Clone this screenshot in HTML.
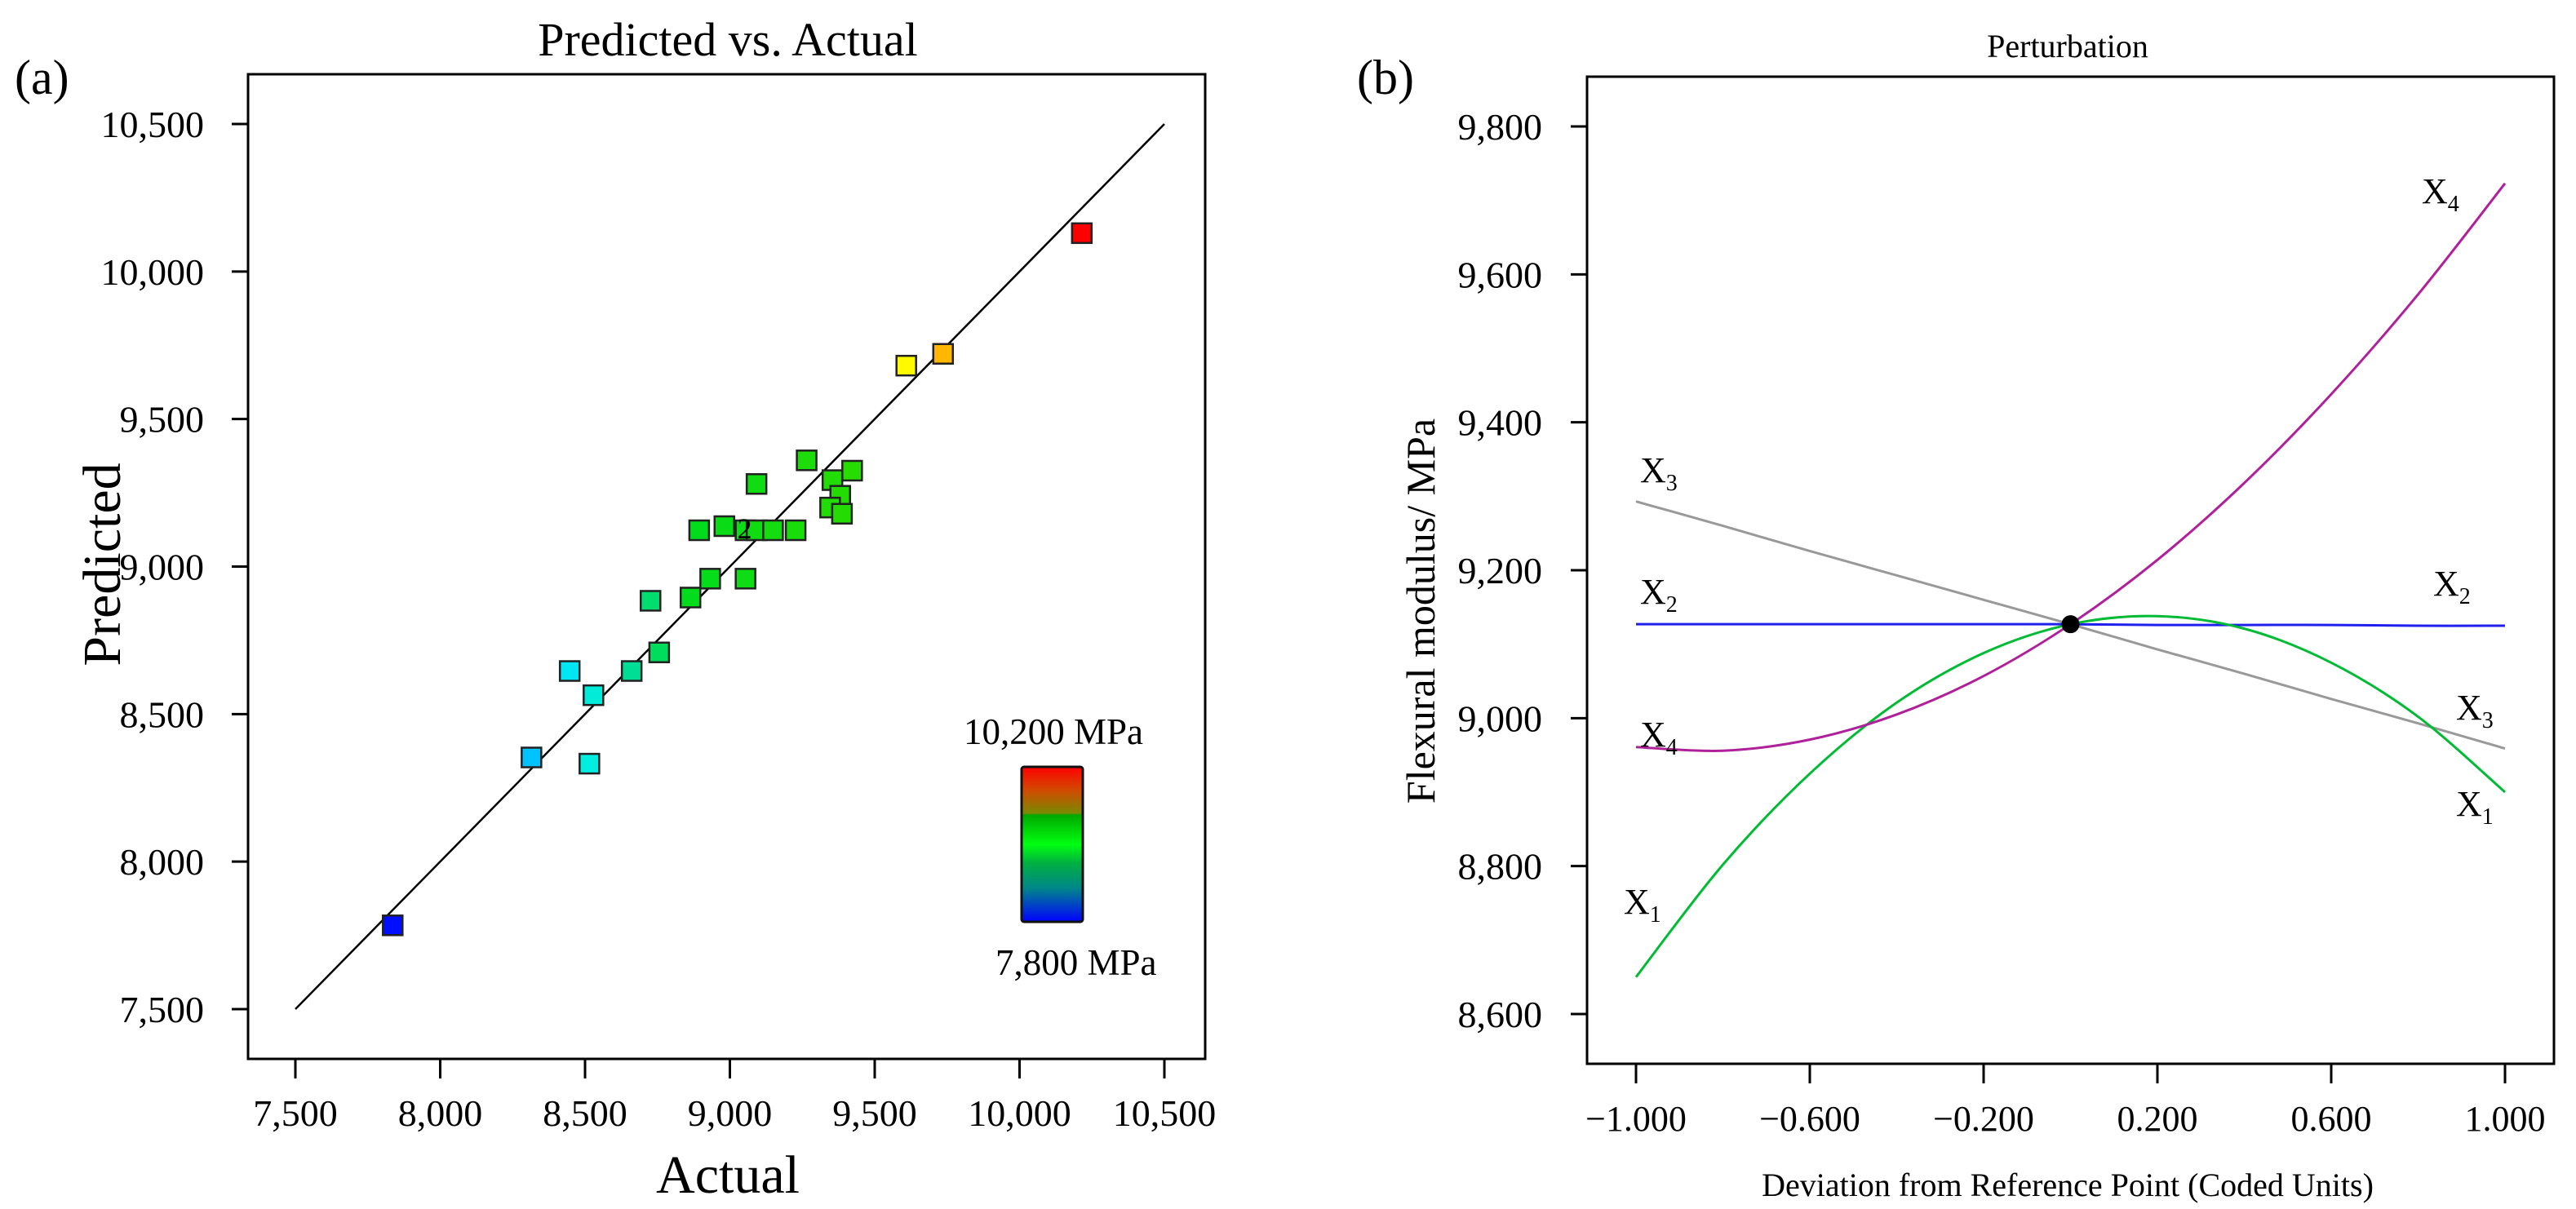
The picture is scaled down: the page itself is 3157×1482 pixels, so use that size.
<!DOCTYPE html>
<html><head><meta charset="utf-8"><style>
html,body{margin:0;padding:0;background:#fff;}
svg text, svg tspan{font-family:"Liberation Serif",serif;fill:#000;}
</style></head><body>
<svg id="fig" width="3157" height="1477" viewBox="0 0 3157 1477" xmlns="http://www.w3.org/2000/svg" font-family="Liberation Serif, serif">
<defs>
<linearGradient id="cbar" x1="0" y1="0" x2="0" y2="1">
<stop offset="0" stop-color="#ff0000"/><stop offset="0.15" stop-color="#d24a00"/><stop offset="0.3" stop-color="#7a8a00"/><stop offset="0.31" stop-color="#00a800"/><stop offset="0.5" stop-color="#00ff10"/><stop offset="0.62" stop-color="#00b040"/><stop offset="0.78" stop-color="#008888"/><stop offset="1" stop-color="#0000ff"/>
</linearGradient>
</defs>
<g id="left"></g>
<g id="right"></g>
</svg>
<script>
// ---- Panel (a) data ----
const actualVals = [7836,8315,8447,8529,8515,8661,8756,8726,8864,8932,9054,8894,8981,9054,9092,9149,9227,9092,9265,9354,9422,9381,9346,9387,9609,9736,10215];
const predictedVals = [7784,8353,8646,8564,8332,8646,8709,8884,8895,8959,8959,9123,9137,9123,9123,9123,9123,9280,9360,9293,9325,9240,9200,9179,9681,9721,10130];
const axisTicksA = [7500,8000,8500,9000,9500,10000,10500];
const tickLabelsA = ["7,500","8,000","8,500","9,000","9,500","10,000","10,500"];
// ---- Panel (b) data ----
const codedX = [-1,-0.8,-0.6,-0.4,-0.2,0,0.2,0.4,0.6,0.8,1];
const seriesX1 = [8650,8802,8925,9021,9088,9127,9138,9121,9075,9002,8900];
const seriesX2 = [9127,9127,9127,9127,9127,9127,9126,9126,9126,9125,9125];
const seriesX3 = [9293,9260,9226,9193,9160,9127,9093,9060,9026,8993,8959];
const seriesX4 = [8961,8956,8971,9005,9057,9127,9214,9318,9438,9573,9723];
const xTicksB = [-1,-0.6,-0.2,0.2,0.6,1];
const xTickLabelsB = ["\u22121.000","\u22120.600","\u22120.200","0.200","0.600","1.000"];
const yTicksB = [8600,8800,9000,9200,9400,9600,9800];
const yTickLabelsB = ["8,600","8,800","9,000","9,200","9,400","9,600","9,800"];

const NS="http://www.w3.org/2000/svg";
function mk(parent,tag,attrs,txt){const e=document.createElementNS(NS,tag);for(const k in attrs)e.setAttribute(k,attrs[k]);if(tag==='text'||tag==='tspan')e.setAttribute('font-family','Liberation Serif, serif');if(txt!==undefined)e.textContent=txt;parent.appendChild(e);return e;}

// ===== Panel A =====
const L=document.getElementById('left');
const ax=v=>362+(v-7500)*(1427-362)/3000;
const ay=v=>1237-(v-7500)*(1237-152)/3000;
let e;
e=mk(L,'rect',{x:304,y:91,width:1173,height:1207,fill:'none',stroke:'#000','stroke-width':3});


e=mk(L,'text',{x:892,y:68,'font-size':58,'text-anchor':'middle'},'Predicted vs. Actual');


e=mk(L,'text',{x:18,y:115,'font-size':60},'(a)');


axisTicksA.forEach((t,i)=>{
  e=mk(L,'line',{x1:ax(t),x2:ax(t),y1:1298,y2:1322,stroke:'#000','stroke-width':3});
  
  
  e=mk(L,'text',{x:ax(t),y:1380,'font-size':46,'text-anchor':'middle'},tickLabelsA[i]);
  
  
  e=mk(L,'line',{x1:284,x2:304,y1:ay(t),y2:ay(t),stroke:'#000','stroke-width':3});
  
  
  e=mk(L,'text',{x:250,y:ay(t)+16,'font-size':46,'text-anchor':'end'},tickLabelsA[i]);
  
  
});
e=mk(L,'text',{x:892,y:1462,'font-size':66,'text-anchor':'middle'},'Actual');


e=mk(L,'text',{x:0,y:0,'font-size':66,'text-anchor':'middle',transform:'translate(147,692) rotate(-90)'},'Predicted');


e=mk(L,'line',{x1:ax(7500),y1:ay(7500),x2:ax(10500),y2:ay(10500),stroke:'#000','stroke-width':2.5});


function colorFor(v){
  const st=[[7800,[0,0,255]],[8300,[0,190,255]],[8480,[0,240,240]],[8680,[0,220,140]],[8850,[0,220,30]],[9450,[40,220,0]],[9600,[255,255,0]],[9750,[255,176,0]],[10200,[255,0,0]]];
  if(v<=st[0][0])return 'rgb(0,0,255)';
  for(let i=1;i<st.length;i++){if(v<=st[i][0]){const f=(v-st[i-1][0])/(st[i][0]-st[i-1][0]);const c=st[i-1][1].map((a,j)=>Math.round(a+(st[i][1][j]-a)*f));return 'rgb('+c+')';}}
  return 'rgb(255,0,0)';
}
actualVals.forEach((a,i)=>{
  const p=predictedVals[i];
  e=mk(L,'rect',{x:ax(a)-12,y:ay(p)-12,width:24,height:24,fill:colorFor(a),stroke:'#222','stroke-width':2.5});
  
  
});
e=mk(L,'text',{x:ax(9054)-10,y:ay(9123)+10,'font-size':36},'2');


e=mk(L,'rect',{x:1252,y:940,width:75,height:190,rx:3,fill:'url(#cbar)',stroke:'#111','stroke-width':3});


e=mk(L,'text',{x:1181,y:912,'font-size':45},'10,200 MPa');


e=mk(L,'text',{x:1220,y:1195,'font-size':45},'7,800 MPa');



// ===== Panel B =====
const R=document.getElementById('right');
const bx=v=>2005+(v+1)*(3070-2005)/2;
const by=v=>1243-(v-8600)*(1243-155)/1200;
e=mk(R,'rect',{x:1945,y:94,width:1185,height:1210,fill:'none',stroke:'#000','stroke-width':3});


e=mk(R,'text',{x:2534,y:70,'font-size':40,'text-anchor':'middle'},'Perturbation');


e=mk(R,'text',{x:1663,y:115,'font-size':60},'(b)');


xTicksB.forEach((t,i)=>{
  e=mk(R,'line',{x1:bx(t),x2:bx(t),y1:1304,y2:1328,stroke:'#000','stroke-width':3});
  
  
  e=mk(R,'text',{x:bx(t),y:1386,'font-size':44,'text-anchor':'middle'},xTickLabelsB[i]);
  
  
});
yTicksB.forEach((t,i)=>{
  e=mk(R,'line',{x1:1925,x2:1945,y1:by(t),y2:by(t),stroke:'#000','stroke-width':3});
  
  
  e=mk(R,'text',{x:1890,y:by(t)+16,'font-size':46,'text-anchor':'end'},yTickLabelsB[i]);
  
  
});
e=mk(R,'text',{x:2534,y:1466,'font-size':40,'text-anchor':'middle'},'Deviation from Reference Point (Coded Units)');


e=mk(R,'text',{x:0,y:0,'font-size':50,'text-anchor':'middle',transform:'translate(1758,749) rotate(-90)'},'Flexural modulus/ MPa');


function smoothPath(xs,ys){
  const P=xs.map((x,i)=>[bx(x),by(ys[i])]);
  let d='M'+P[0][0]+','+P[0][1];
  for(let i=0;i<P.length-1;i++){
    const p0=P[Math.max(0,i-1)],p1=P[i],p2=P[i+1],p3=P[Math.min(P.length-1,i+2)];
    const c1=[p1[0]+(p2[0]-p0[0])/6,p1[1]+(p2[1]-p0[1])/6];
    const c2=[p2[0]-(p3[0]-p1[0])/6,p2[1]-(p3[1]-p1[1])/6];
    d+=' C'+c1+' '+c2+' '+p2;
  }
  return d;
}
const lines=[[seriesX3,'#999999','line-x3'],[seriesX2,'#2020ee','line-x2'],[seriesX1,'#00bb33','line-x1'],[seriesX4,'#b0209a','line-x4']];
lines.forEach(([s,c,n])=>{
  e=mk(R,'path',{d:smoothPath(codedX,s),fill:'none',stroke:c,'stroke-width':3});
  
  
});
e=mk(R,'circle',{cx:bx(0),cy:by(seriesX2[5]),r:11,fill:'#000'});


const labs=[[2010,591,'3'],[2010,740,'2'],[2010,915,'4'],[1990,1120,'1'],[2968,249,'4'],[2982,730,'2'],[3010,882,'3'],[3010,1000,'1']];
labs.forEach(([x,y,s])=>{
  e=mk(R,'text',{x:x,y:y,'font-size':44});
  
  
  mk(e,'tspan',{},'X');
  mk(e,'tspan',{'font-size':28,dy:10},s);
});
</script>
</body></html>
